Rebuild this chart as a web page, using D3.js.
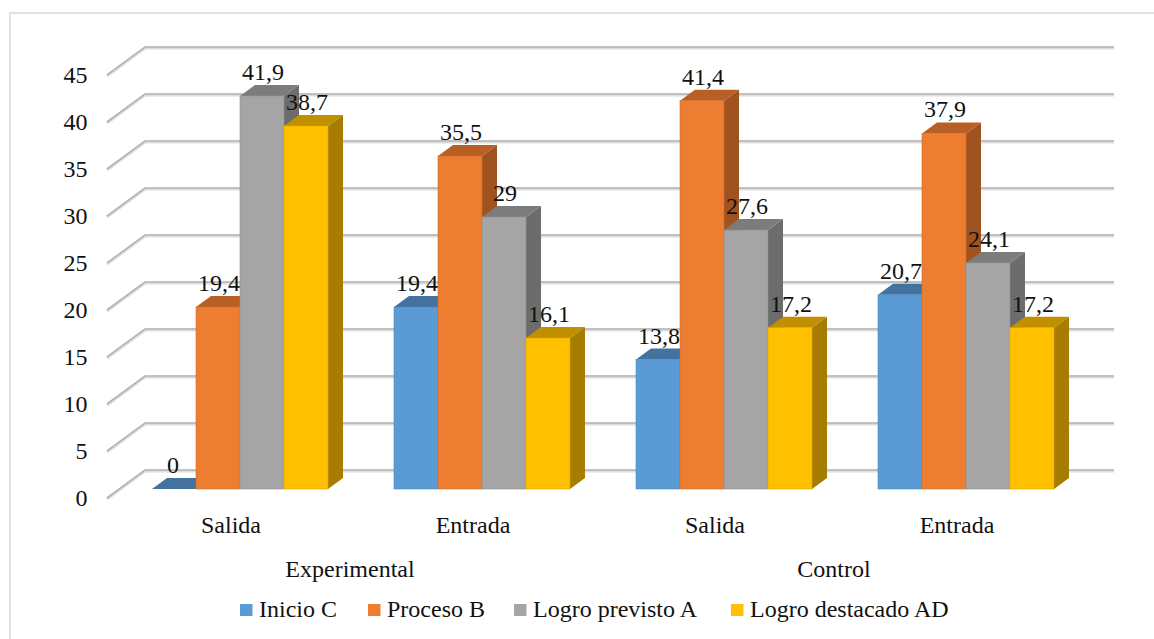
<!DOCTYPE html>
<html>
<head>
<meta charset="utf-8">
<script src="https://cdnjs.cloudflare.com/ajax/libs/d3/7.8.5/d3.min.js"></script>
<style>
html,body{margin:0;padding:0;background:#fff}
svg{display:block}
text{font-family:"Liberation Serif","Times New Roman",serif;fill:#111}
</style>
</head>
<body>
<svg id="chart" width="1154" height="639"></svg>
<script>
// Achievement levels by group and test moment
const groups = ["Experimental", "Control"];
const moments = ["Salida", "Entrada", "Salida", "Entrada"];
const seriesNames = ["Inicio C", "Proceso B", "Logro previsto A", "Logro destacado AD"];
const inicioC = [0, 19.4, 13.8, 20.7];
const procesoB = [19.4, 35.5, 41.4, 37.9];
const logroPrevistoA = [41.9, 29, 27.6, 24.1];
const logroDestacadoAD = [38.7, 16.1, 17.2, 17.2];
const seriesValues = [inicioC, procesoB, logroPrevistoA, logroDestacadoAD];
const yTicks = [0, 5, 10, 15, 20, 25, 30, 35, 40, 45];

// face colours per series: front, top, side
const faceFront = ["#5B9BD5", "#ED7D31", "#A5A5A5", "#FFC000"];
const faceTop = ["#44729E", "#B85F25", "#7C7C7C", "#C09000"];
const faceSide = ["#3F6C96", "#A0521F", "#6C6C6C", "#A67D00"];

const svg = d3.select("#chart");
const comma = v => String(v).replace(".", ",");
const fontSize = 24;

// chart frame, open towards the right and the bottom edges
svg.append("path")
  .attr("d", "M10,639V13H1154")
  .attr("fill", "none").attr("stroke", "#e2e2e2").attr("stroke-width", 2);

// scales: bars on the front plane, gridlines on the back wall, ticks on the wall's front edge
const yBar = d3.scaleLinear().domain([0, 45]).range([489, 66.9]);
const yWall = d3.scaleLinear().domain([0, 45]).range([470, 47]);
const yEdge = d3.scaleLinear().domain([0, 45]).range([498, 75]);
const xGroup = d3.scaleBand().domain(d3.range(moments.length)).range([152, 1054]).paddingInner(66 / 242);
const xSeries = d3.scaleBand().domain(d3.range(seriesNames.length)).range([0, xGroup.bandwidth()]);

// receding depth of the wall and of each bar
const wallDepth = { dx: 38, dy: -28 };
const barDepth = { dx: 15, dy: -11 };
const wallLeft = 107, wallRight = 1114;

// wall gridlines: soft band under a darker core
const grid = svg.append("g");
yTicks.forEach(t => {
  const yb = yWall(t), yf = yEdge(t);
  const d = `M${wallLeft},${yf}L${wallLeft + wallDepth.dx},${yb}H${wallRight}`;
  grid.append("path").attr("d", d).attr("transform", "translate(0,1)")
    .attr("fill", "none").attr("stroke", "#dedede").attr("stroke-width", 3);
  grid.append("path").attr("d", d)
    .attr("fill", "none").attr("stroke", "#b4b4b4").attr("stroke-width", 1.6);
});

// value axis labels
const yAxis = d3.axisLeft(yEdge).tickValues(yTicks).tickSize(0).tickPadding(0).tickFormat(d3.format("d"));
const axisG = svg.append("g").attr("transform", "translate(87.5,0)").call(yAxis);
axisG.select(".domain").remove();
axisG.selectAll("text")
  .style("font-family", '"Liberation Serif"').attr("fill", "#111")
  .attr("font-size", fontSize);

// bars, drawn from left to right so nearer faces overlap properly
const bars = svg.append("g");
const labels = [];
moments.forEach((m, gi) => {
  seriesNames.forEach((s, si) => {
    const v = seriesValues[si][gi];
    const x0 = xGroup(gi) + xSeries(si), x1 = x0 + xSeries.bandwidth();
    const y0 = yBar(0), y1 = yBar(v);
    const { dx, dy } = barDepth;
    const g = bars.append("g");
    g.append("polygon").attr("fill", faceSide[si])
      .attr("points", [[x1, y1], [x1 + dx, y1 + dy], [x1 + dx, y0 + dy], [x1, y0]].join(" "));
    g.append("polygon").attr("fill", faceTop[si])
      .attr("points", [[x0, y1], [x0 + dx, y1 + dy], [x1 + dx, y1 + dy], [x1, y1]].join(" "));
    if (v > 0) {
      g.append("rect").attr("x", x0).attr("y", y1).attr("width", x1 - x0).attr("height", y0 - y1)
        .attr("fill", faceFront[si]).attr("stroke", d3.color(faceFront[si]).darker(0.35)).attr("stroke-width", 0.6);
    }
    // the empty bar's label hugs its flat footprint
    labels.push({ text: comma(v), x: (x0 + x1) / 2 + (v > 0 ? 1 : -1), y: y1 + dy - 5 });
  });
});

// value labels sit above every bar
svg.append("g").selectAll("text").data(labels).join("text")
  .attr("x", d => d.x).attr("y", d => d.y)
  .attr("text-anchor", "middle").attr("font-size", fontSize)
  .text(d => d.text);

// category axis: moments, then the group each pair belongs to
const momentOffset = -9, groupOffset = -11;
svg.append("g").selectAll("text").data(moments).join("text")
  .attr("x", (d, i) => xGroup(i) + xGroup.bandwidth() / 2 + momentOffset).attr("y", 533)
  .attr("text-anchor", "middle").attr("font-size", fontSize).text(d => d);
svg.append("g").selectAll("text").data(groups).join("text")
  .attr("x", (d, i) => (xGroup(i * 2) + xGroup(i * 2 + 1) + xGroup.bandwidth()) / 2 + groupOffset).attr("y", 577)
  .attr("text-anchor", "middle").attr("font-size", fontSize).text(d => d);

// legend
const legendX = [240, 368, 514, 731];
const legend = svg.append("g");
legend.selectAll("rect").data(seriesNames).join("rect")
  .attr("x", (d, i) => legendX[i]).attr("y", 604).attr("width", 12.5).attr("height", 12)
  .attr("fill", (d, i) => faceFront[i]);
legend.selectAll("text").data(seriesNames).join("text")
  .attr("x", (d, i) => legendX[i] + 19).attr("y", 617).attr("font-size", fontSize)
  .text(d => d);
</script>
</body>
</html>
